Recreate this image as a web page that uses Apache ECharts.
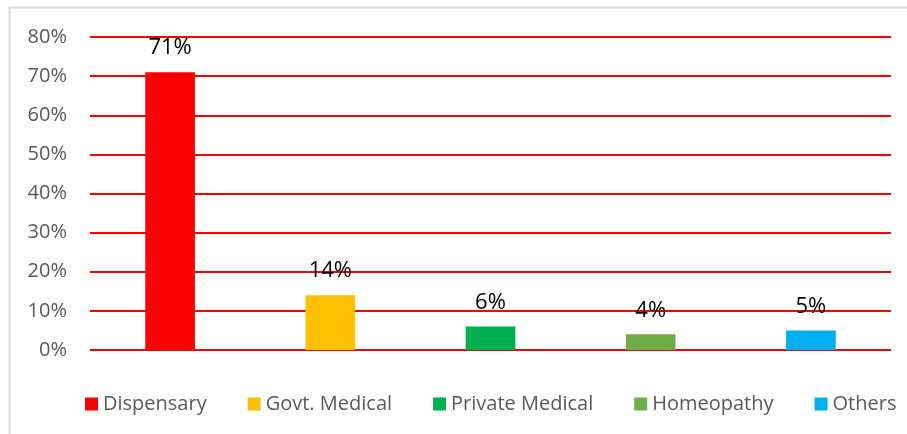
<!DOCTYPE html>
<html>
<head>
<meta charset="utf-8">
<script src="https://cdn.jsdelivr.net/npm/echarts@6/dist/echarts.min.js"></script>
<style>
  html, body { margin: 0; padding: 0; background: #fff; }
  #chart { width: 907px; height: 434px; }
</style>
</head>
<body>
<div id="chart"></div>
<script>
// data
var categories = ['Dispensary', 'Govt. Medical', 'Private Medical', 'Homeopathy', 'Others'];
var values = [71, 14, 6, 4, 5];
var colors = ['#FF0000', '#FFC000', '#00B050', '#70AD47', '#00B0F0'];
var yTicks = [0, 10, 20, 30, 40, 50, 60, 70, 80];

var FONT = 'Open Sans';

var series = categories.map(function (name, i) {
  var d = categories.map(function (c, j) { return j === i ? values[i] : '-'; });
  return {
    name: name,
    type: 'bar',
    stack: 'one',
    barWidth: '31%',
    data: d,
    itemStyle: { color: colors[i] },
    label: {
      show: true,
      position: 'top',
      distance: 13,
      formatter: '{c}%',
      color: '#000',
      fontSize: 22,
      fontFamily: FONT
    }
  };
});

var option = {
  animation: false,
  graphic: [{
    type: 'rect',
    shape: { x: 9.5, y: 7.5, width: 920, height: 450 },
    style: { fill: 'none', stroke: '#d9d9d9', lineWidth: 2 },
    silent: true
  }],
  grid: { left: 90, right: 16, top: 37, bottom: 84 },
  legend: {
    bottom: 15,
    left: 80,
    itemWidth: 13,
    itemHeight: 13,
    itemGap: 41,
    icon: 'rect',
    textStyle: { color: '#595959', fontSize: 20, fontFamily: FONT },
    data: categories
  },
  xAxis: {
    type: 'category',
    data: categories,
    axisLine: { show: false },
    axisTick: { show: false },
    axisLabel: { show: false }
  },
  yAxis: {
    type: 'value',
    min: yTicks[0],
    max: yTicks[yTicks.length - 1],
    interval: 10,
    axisLine: { show: false },
    axisTick: { show: false },
    axisLabel: {
      formatter: '{value}%',
      color: '#595959',
      fontSize: 20,
      fontFamily: FONT,
      margin: 23
    },
    splitLine: { lineStyle: { color: '#FF0000', width: 2 } }
  },
  series: series
};

var myChart = echarts.init(document.getElementById('chart'));
myChart.setOption(option);
</script>
</body>
</html>
